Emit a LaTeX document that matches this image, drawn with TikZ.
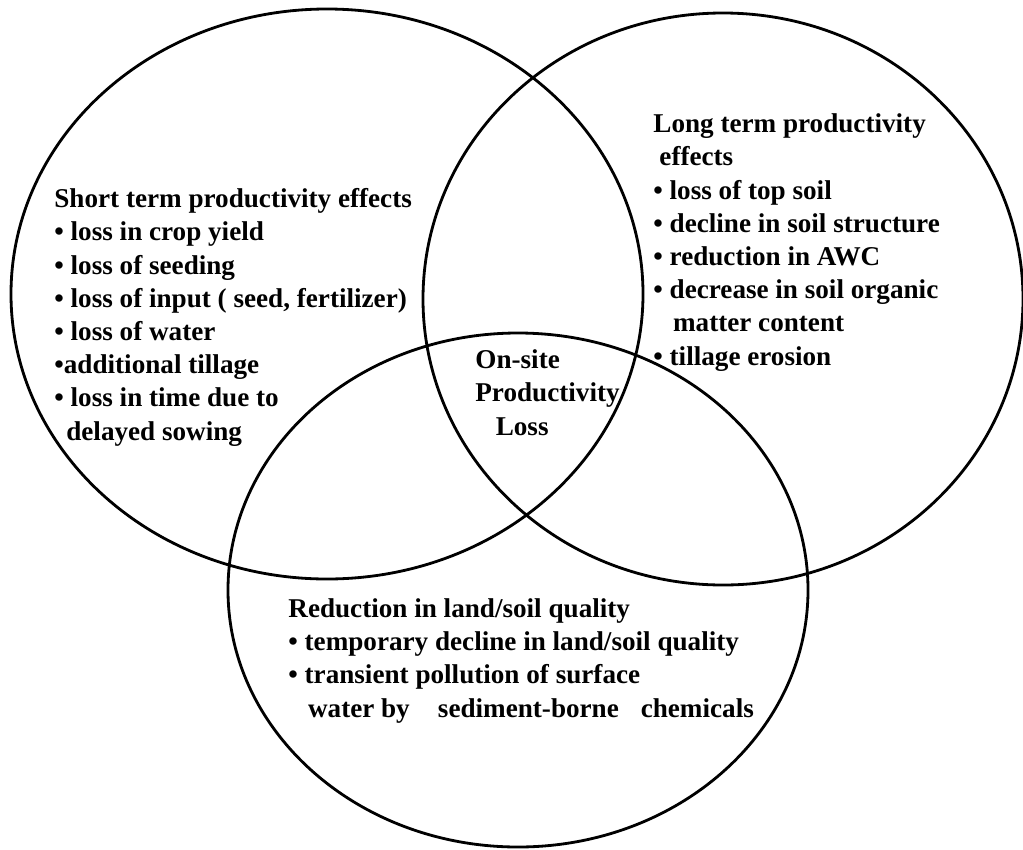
\documentclass[tikz,border=0pt]{standalone}
\usepackage{fontspec}
\setmainfont{Liberation Serif}
\begin{document}
\begin{tikzpicture}[x=0.025cm, y=-0.025cm, line width=2pt, line join=round, line cap=round,
		font=\bfseries\fontsize{19.3}{23.6}\selectfont,
		blocktext/.style={align=left, anchor=base west, inner sep=0pt}]
				\useasboundingbox (0,0) rectangle (1023,849);
				\coordinate (L) at (327,294);
				\coordinate (R) at (723,299);
				\coordinate (B) at (518,590);
				\draw (L) ellipse [x radius=316, y radius=285]
				(R) ellipse [x radius=300, y radius=286]
				(B) ellipse [x radius=290, y radius=257];
				\path[every node/.style={blocktext}]
				(53,440) node (short) {Short term productivity effects\\
					• loss in crop yield\\
					• loss of seeding\\
					• loss of input ( seed, fertilizer)\\
					• loss of water\\
					•additional tillage\\
					• loss in time due to\\
					\hspace*{8.5pt}delayed sowing}
				(652,365) node (long) {Long term productivity\\
					\hspace*{4.3pt}effects\\
					• loss of top soil\\
					• decline in soil structure\\
					• reduction in AWC\\
					• decrease in soil organic\\
					\hspace*{14pt}matter content\\
					• tillage erosion}
				(474,435) node (onsite) {On-site\\
					Productivity\\
					\hspace*{14.5pt}Loss}
				(287,717) node (reduction) {Reduction in land/soil quality\\
					• temporary decline in land/soil quality\\
					• transient pollution of surface\\
					\hspace*{14pt}water by\hspace{20pt}sediment-borne\hspace{15.6pt}chemicals}
				;
			\end{tikzpicture}
\end{document}
